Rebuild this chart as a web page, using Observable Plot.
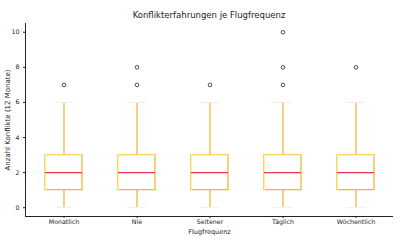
<!DOCTYPE html>
<html><head><meta charset="utf-8">
<script src="https://cdn.jsdelivr.net/npm/d3@7"></script>
<script src="https://cdn.jsdelivr.net/npm/@observablehq/plot@0.6"></script>
<style>
body{margin:0;background:#fff;font-family:"DejaVu Sans",sans-serif;}
#title{height:20px;box-sizing:border-box;padding:10px 7px 0 25px;text-align:center;font-size:8.5px;line-height:10px;color:#222;}
g[aria-label="y-axis label"] text{font-size:7px;}
g[aria-label="x-axis label"] text{font-size:6.5px;}
</style></head><body>
<div id="title">Konflikterfahrungen je Flugfrequenz</div>
<div id="chart"></div>
<script>
const categories = ["Monatlich","Nie","Seltener","Täglich","Wöchentlich"];
const whiskerLow = [0,0,0,0,0];
const q1 = [1,1,1,1,1];
const median = [2,2,2,2,2];
const q3 = [3,3,3,3,3];
const whiskerHigh = [6,6,6,6,6];
const outliers = [[7],[7,8],[7],[7,8,10],[8]];
const yTicks = [0,2,4,6,8,10];

const boxes = categories.map((c,i)=>({cat:c, lo:whiskerLow[i], q1:q1[i], med:median[i], q3:q3[i], hi:whiskerHigh[i]}));
const pts = categories.flatMap((c,i)=>outliers[i].map(v=>({cat:c, v})));

const orange = "#f3b02c", pale = "#fff49a", red = "#e8364f";

const chart = Plot.plot({
  width: 400, height: 220,
  marginTop: 3, marginBottom: 24, marginLeft: 25, marginRight: 7,
  style: {fontFamily: "DejaVu Sans, sans-serif", fontSize: "6.3px", color: "#222", background: "white"},
  x: {domain: categories, paddingInner: 0.5, paddingOuter: 0.25, label: "Flugfrequenz", labelAnchor: "center", labelArrow: "none", labelOffset: 17, tickSize: 2, tickPadding: 1},
  y: {domain: [-0.5, 10.5], ticks: yTicks, label: "Anzahl Konflikte (12 Monate)", labelAnchor: "center", labelArrow: "none", labelOffset: 20, tickSize: 2, tickPadding: 4, tickFormat: d3.format("d")},
  marks: [
    Plot.ruleX(boxes, {x: "cat", y1: "lo", y2: "q1", stroke: orange, strokeWidth: 1.2}),
    Plot.ruleX(boxes, {x: "cat", y1: "q3", y2: "hi", stroke: orange, strokeWidth: 1.2}),
    Plot.tickY(boxes, {x: "cat", y: "lo", stroke: "#eeeeee", strokeWidth: 1, inset: 9}),
    Plot.tickY(boxes, {x: "cat", y: "hi", stroke: "#eeeeee", strokeWidth: 1, inset: 9}),
    Plot.barY(boxes, {x: "cat", y1: "q1", y2: "q3", fill: "white", stroke: orange, strokeWidth: 1.2}),
    Plot.tickY(boxes, {x: "cat", y: "q3", stroke: pale, strokeWidth: 1.2}),
    Plot.ruleX(boxes, {x: "cat", y1: "q1", y2: "q3", dx: -18.4, stroke: pale, strokeWidth: 1.2}),
    Plot.tickY(boxes, {x: "cat", y: "med", stroke: red, strokeWidth: 1.2}),
    Plot.dot(pts, {x: "cat", y: "v", r: 1.8, stroke: "#222", fill: "white", strokeWidth: 0.8}),
    Plot.ruleY([-0.5], {stroke: "#222", strokeWidth: 1}),
    Plot.frame({anchor: "left", stroke: "#222", strokeWidth: 1})
  ]
});
document.getElementById("chart").append(chart);
</script>
</body></html>
